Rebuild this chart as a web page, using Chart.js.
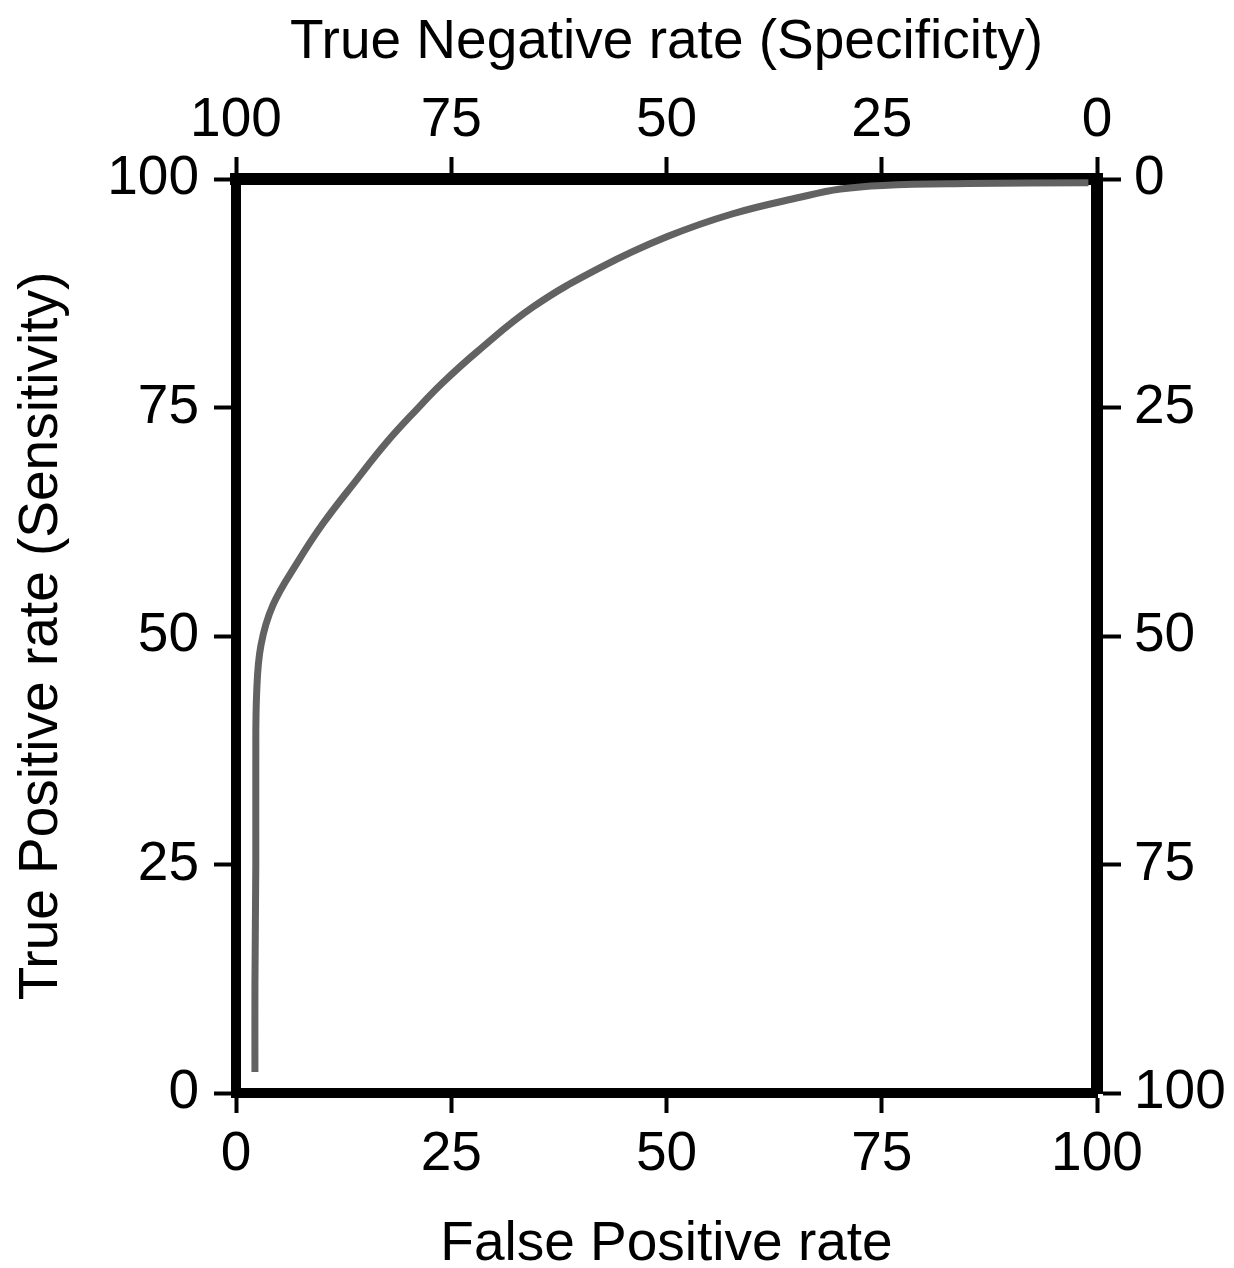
<!DOCTYPE html>
<html>
<head>
<meta charset="utf-8">
<title>ROC curve</title>
<script src="https://cdn.jsdelivr.net/npm/chart.js@4.4.1/dist/chart.umd.min.js"></script>
<style>
  html, body { margin: 0; padding: 0; background: #fff; }
  #wrap { width: 1234px; height: 1268px; }
</style>
</head>
<body>
<div id="wrap"><canvas id="roc" width="1234" height="1268"></canvas></div>
<script>
// ROC curve (percent)
const fpr = [2.2, 2.2, 2.3, 2.3, 2.4, 2.9, 4.3, 7.1, 10.1, 14.1, 17.5, 21.0, 24.0, 28.0, 34.5, 42.3, 50.1, 57.7, 65.5, 70.2, 75.1, 85.0, 99.0];
const tpr = [2.3, 12.0, 25.0, 36.0, 43.8, 49.0, 53.4, 58.0, 62.3, 67.2, 71.2, 74.8, 77.7, 81.1, 86.0, 90.3, 93.7, 96.2, 98.0, 98.9, 99.3, 99.5, 99.6];
const tickValues = [0, 25, 50, 75, 100];

const FONT = { family: '"Liberation Sans", Arial, sans-serif', size: 55, lineHeight: 1 };

// fixed box sizes so the plot frame sits where the figure has it
const BOX = { left: 236, right: 137, top: 179, bottom: 175 };

function axis(position, reverse, tickLen, pad, borderW, boxSize, titleText, titlePad) {
    return {
        type: 'linear',
        position: position,
        min: 0,
        max: 100,
        reverse: reverse,
        afterBuildTicks: s => { s.ticks = tickValues.map(v => ({ value: v })); },
        afterFit: s => {
            if (s.isHorizontal()) s.height = boxSize; else s.width = boxSize;
        },
        grid: {
            drawOnChartArea: false,
            drawTicks: true,
            tickLength: tickLen,
            tickWidth: 4,
            tickColor: '#000'
        },
        border: { display: true, width: borderW, color: '#000' },
        ticks: {
            color: '#000',
            font: FONT,
            padding: pad,
            maxRotation: 0,
            autoSkip: false
        },
        title: {
            display: !!titleText,
            text: titleText,
            color: '#000',
            font: FONT,
            padding: titlePad
        }
    };
}

const ctx = document.getElementById('roc').getContext('2d');
new Chart(ctx, {
    type: 'scatter',
    data: {
        datasets: [{
            data: fpr.map((x, i) => ({ x: x, y: tpr[i] })),
            showLine: true,
            borderColor: '#626262',
            borderWidth: 7,
            pointRadius: 0,
            tension: 0.4,
            xAxisID: 'x',
            yAxisID: 'y'
        }]
    },
    options: {
        responsive: false,
        animation: false,
        layout: { padding: 0 },
        plugins: { legend: { display: false }, tooltip: { enabled: false } },
        scales: {
            x: axis('bottom', false, 20, 14, 10, BOX.bottom, 'False Positive rate', { top: 0, bottom: -4 }),
            x2: axis('top', true, 22, 9, 12, BOX.top, 'True Negative rate (Specificity)', { top: 15, bottom: 0 }),
            y: axis('left', false, 22, 15, 10, BOX.left, 'True Positive rate (Sensitivity)', { top: 14, bottom: 0 }),
            y2: axis('right', true, 24, 13, 12, BOX.right, '', 0)
        }
    }
});
</script>
</body>
</html>
